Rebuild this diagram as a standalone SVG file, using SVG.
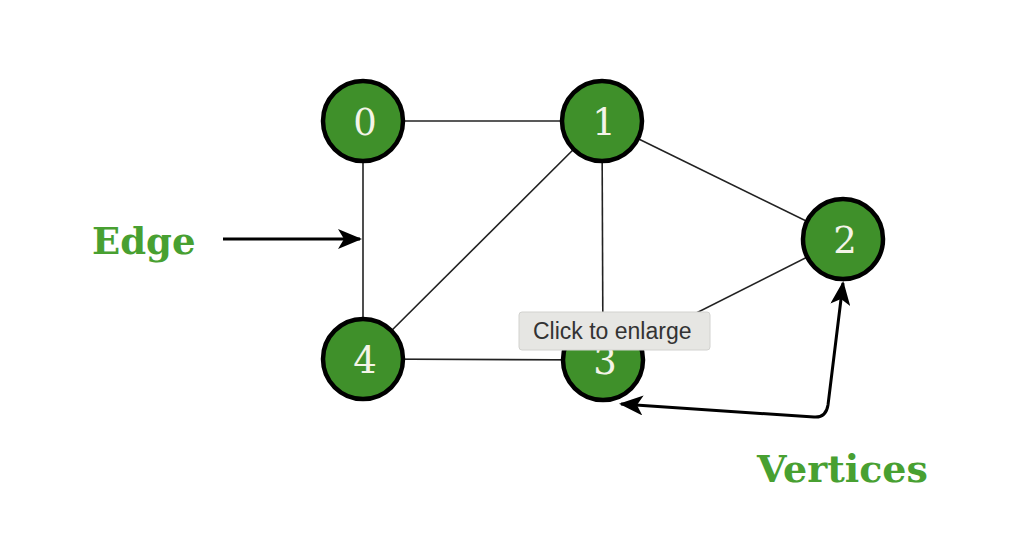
<svg xmlns="http://www.w3.org/2000/svg" width="1030" height="536" viewBox="0 0 1030 536">
  <style>
    .edge { stroke: #222; stroke-width: 1.6; fill: none; }
    .vertex circle { fill: #3f902a; stroke: #000; stroke-width: 4.5; }
    .vertex text { font-family: "DejaVu Serif", serif; font-size: 37px; fill: #f4f4e8; text-anchor: middle; }
    .label { font-family: "DejaVu Serif", serif; font-weight: bold; fill: #48a031; }
    .pointer { stroke: #000; stroke-width: 3; fill: none; }
  </style>
  <defs>
    <marker id="tip" viewBox="0 0 24 20" refX="22" refY="10" markerWidth="24" markerHeight="20" markerUnits="userSpaceOnUse" orient="auto-start-reverse">
      <path d="M0,0 L24,10 L0,20 L6,10 Z" fill="#000"/>
    </marker>
  </defs>

  <g id="connectors">
    <line class="edge" x1="363" y1="121" x2="602" y2="121"/>
    <line class="edge" x1="363" y1="121" x2="363" y2="359"/>
    <line class="edge" x1="602" y1="121" x2="363" y2="359"/>
    <line class="edge" x1="602" y1="121" x2="603" y2="360"/>
    <line class="edge" x1="602" y1="121" x2="843" y2="239"/>
    <line class="edge" x1="843" y1="239" x2="603" y2="360"/>
    <line class="edge" x1="363" y1="359" x2="603" y2="360"/>
    <!-- pointer to an edge -->
    <line class="pointer" x1="223" y1="239" x2="360" y2="239" marker-end="url(#tip)"/>
    <!-- pointer to two vertices -->
    <path class="pointer" d="M621,404 L814,417 Q826,418 828,405 L843,283" marker-start="url(#tip)" marker-end="url(#tip)"/>
  </g>

  <g id="node-0" class="vertex"><circle cx="363" cy="121" r="40"/><text x="365" y="135">0</text></g>
  <g id="node-1" class="vertex"><circle cx="602" cy="121" r="40"/><text x="604" y="135">1</text></g>
  <g id="node-2" class="vertex"><circle cx="843" cy="239" r="40"/><text x="845" y="253">2</text></g>
  <g id="node-3" class="vertex"><circle cx="603" cy="360" r="40"/><text x="605" y="374">3</text></g>
  <g id="node-4" class="vertex"><circle cx="363" cy="359" r="40"/><text x="365" y="373">4</text></g>

  <g id="label-edge"><text class="label" x="92" y="254" font-size="37">Edge</text></g>
  <g id="label-vertices"><text class="label" x="757" y="482" font-size="38">Vertices</text></g>

  <g id="tooltip">
    <rect x="519" y="312" width="191" height="38" rx="3" fill="#e6e6e3" stroke="#d2d2cf" stroke-width="1"/>
    <text x="533" y="339" font-family="'Liberation Sans', Arial, sans-serif" font-size="23" fill="#333">Click to enlarge</text>
  </g>
</svg>
